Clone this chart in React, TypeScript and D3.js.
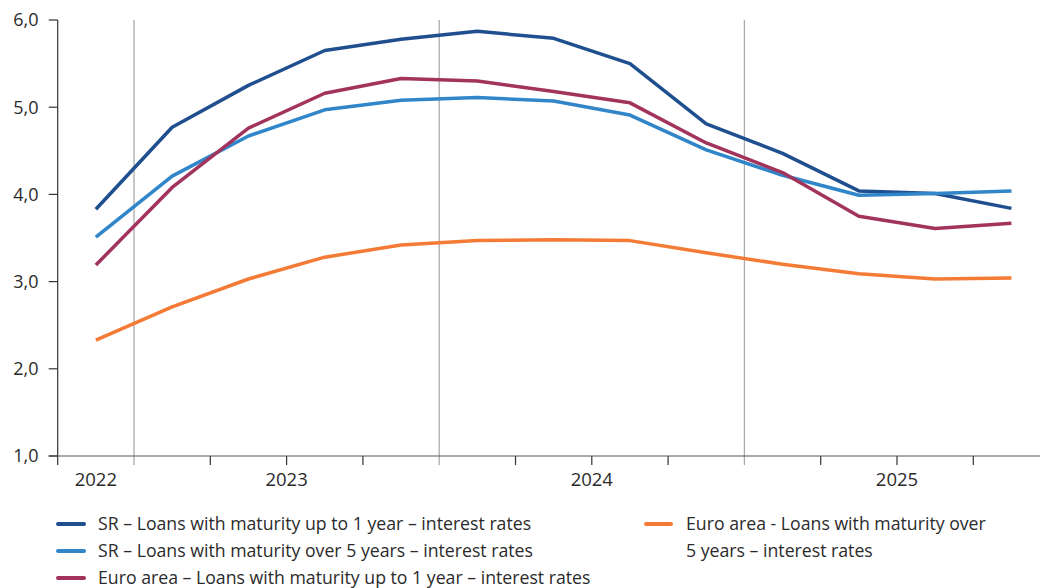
import React from "react";
import * as d3 from "d3";

const periods = ["Q4 2022","Q1 2023","Q2 2023","Q3 2023","Q4 2023","Q1 2024","Q2 2024","Q3 2024","Q4 2024","Q1 2025","Q2 2025","Q3 2025","Q4 2025"];
const srShort = [3.83,4.77,5.25,5.65,5.78,5.87,5.79,5.50,4.81,4.47,4.04,4.01,3.84];
const srLong = [3.51,4.21,4.67,4.97,5.08,5.11,5.07,4.91,4.51,4.22,3.99,4.01,4.04];
const euShort = [3.19,4.08,4.76,5.16,5.33,5.30,5.18,5.05,4.59,4.25,3.75,3.61,3.67];
const euLong = [2.33,2.71,3.03,3.28,3.42,3.47,3.48,3.47,3.33,3.20,3.09,3.03,3.04];
const yTicks = [1,2,3,4,5,6];
const yearLabels = [{label:"2022", at:0, mid:true},{label:"2023", at:3},{label:"2024", at:7},{label:"2025", at:11}];
const yearBoundaries = [1,5,9];

const series = [
  { name: "SR – Loans with maturity up to 1 year – interest rates", values: srShort, color: "#1f4f8f" },
  { name: "SR – Loans with maturity over 5 years – interest rates", values: srLong, color: "#3186c9" },
  { name: "Euro area – Loans with maturity up to 1 year – interest rates", values: euShort, color: "#a2335c" },
  { name: "Euro area - Loans with maturity over|5 years – interest rates", values: euLong, color: "#f47b36" },
];

const W = 1040, H = 588;
const left = 57.7, step = 76.3;
const top = 20, bottom = 456;

export default function App() {
  const x = d3.scaleBand<string>().domain(periods).range([left, left + step * periods.length]).paddingInner(0).paddingOuter(0);
  const y = d3.scaleLinear().domain([1, 6]).range([bottom, top]);
  const line = d3.line<number>().x((_, i) => (x(periods[i]) as number) + x.bandwidth() / 2).y((v) => y(v));
  const font = "'Open Sans', Lato, sans-serif";
  const textColor = "#2b2b2b";
  const boundaries = d3.range(periods.length).map((i) => x(periods[i]) as number);

  return (
    <svg width={W} height={H} style={{ position: "absolute", left: 0, top: 0, background: "#fff" }} fontFamily={font}>
      {yearBoundaries.map((b) => (
        <line key={"g" + b} x1={boundaries[b]} x2={boundaries[b]} y1={top} y2={bottom + 9} stroke="#ababab" strokeWidth={1.3} />
      ))}
      {boundaries.map((bx, i) =>
        yearBoundaries.includes(i) ? null : (
          <line key={"t" + i} x1={bx} x2={bx} y1={bottom} y2={bottom + 9} stroke="#333" strokeWidth={1.2} />
        )
      )}
      <line x1={left} x2={left} y1={top} y2={bottom} stroke="#333" strokeWidth={1.2} />
      <line x1={left - 9} x2={W} y1={bottom} y2={bottom} stroke="#555" strokeWidth={1.2} />
      {yTicks.map((t) => (
        <g key={"y" + t}>
          <line x1={left - 9} x2={left} y1={y(t)} y2={y(t)} stroke="#333" strokeWidth={1.2} />
          <text x={38.5} y={y(t)} dy="0.35em" textAnchor="end" fontSize={18} fill={textColor}>
            {t.toFixed(1).replace(".", ",")}
          </text>
        </g>
      ))}
      {yearLabels.map((yl) => {
        const px = yl.mid
          ? (x(periods[yl.at]) as number) + x.bandwidth() / 2
          : (x(periods[yl.at]) as number);
        return (
          <text key={yl.label} x={px} y={486} textAnchor="middle" fontSize={18.5} fill={textColor}>
            {yl.label}
          </text>
        );
      })}
      {series.map((s) => (
        <path key={s.name} d={line(s.values) || ""} fill="none" stroke={s.color} strokeWidth={3.5} strokeLinejoin="round" />
      ))}
      {series.slice(0, 3).map((s, i) => (
        <g key={"l" + i}>
          <line x1={58} x2={84} y1={524 + i * 27} y2={524 + i * 27} stroke={s.color} strokeWidth={4} strokeLinecap="round" />
          <text x={98} y={524 + i * 27} dy="0.35em" fontSize={17.7} fill={textColor}>{s.name}</text>
        </g>
      ))}
      {(() => {
        const s = series[3];
        const lines = s.name.split("|");
        return (
          <g>
            <line x1={646} x2={671} y1={524} y2={524} stroke={s.color} strokeWidth={4} strokeLinecap="round" />
            {lines.map((l, i) => (
              <text key={i} x={686} y={524 + i * 27} dy="0.35em" fontSize={17.7} fill={textColor}>{l}</text>
            ))}
          </g>
        );
      })()}
    </svg>
  );
}
